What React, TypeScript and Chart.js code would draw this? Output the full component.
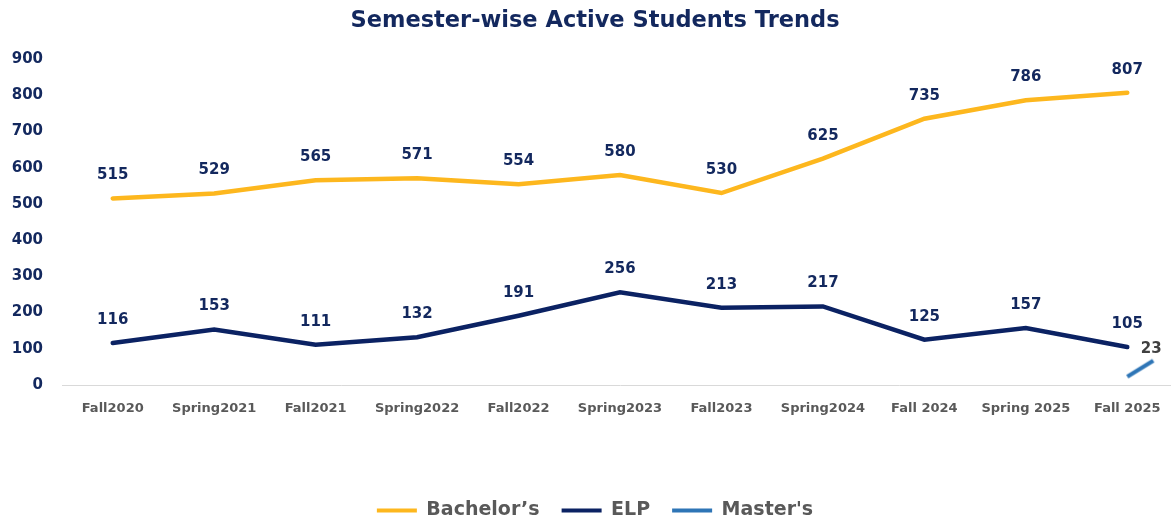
import React, { useEffect, useRef } from "react";
import { Chart, registerables } from "chart.js";

Chart.register(...registerables);

const categories = [
  "Fall2020",
  "Spring2021",
  "Fall2021",
  "Spring2022",
  "Fall2022",
  "Spring2023",
  "Fall2023",
  "Spring2024",
  "Fall 2024",
  "Spring 2025",
  "Fall 2025",
];

const bachelors = [515, 529, 565, 571, 554, 580, 530, 625, 735, 786, 807];
const elp = [116, 153, 111, 132, 191, 256, 213, 217, 125, 157, 105];
const masters = [null, null, null, null, null, null, null, null, null, null, 23];

const yTicks = [0, 100, 200, 300, 400, 500, 600, 700, 800, 900];

const FONT = "'DejaVu Sans', 'Noto Sans', sans-serif";
const NAVY = "#13285e";
const GRAY = "#595959";
const YELLOW = "#FDB71E";
const DARK = "#0B2263";
const BLUE = "#2E75B6";

const labelOffsets = [
  { dx: 0, dy: -23, color: NAVY },
  { dx: 0, dy: -23, color: NAVY },
  { dx: 24, dy: -28, color: "#404040" },
];

function makeStubStyle(color: string) {
  const c = document.createElement("canvas");
  c.width = 64;
  c.height = 44;
  const g = c.getContext("2d");
  if (g) {
    g.strokeStyle = color;
    g.lineWidth = 4;
    g.lineCap = "butt";
    g.beginPath();
    g.moveTo(32, 22);
    g.lineTo(32 + 26, 22 - 16);
    g.stroke();
  }
  return c;
}

const dataLabelPlugin = {
  id: "dataLabels",
  afterDatasetsDraw(chart: any) {
    const ctx = chart.ctx;
    ctx.save();
    ctx.font = `bold 15px ${FONT}`;
    ctx.textAlign = "center";
    ctx.textBaseline = "middle";
    chart.data.datasets.forEach((ds: any, di: number) => {
      const meta = chart.getDatasetMeta(di);
      const off = labelOffsets[di];
      meta.data.forEach((el: any, i: number) => {
        const v = ds.data[i];
        if (v === null || v === undefined) return;
        ctx.fillStyle = off.color;
        ctx.fillText(String(v), el.x + off.dx, el.y + off.dy);
      });
    });
    ctx.restore();
  },
};

const CANVAS_W = 1202;
const CANVAS_H = 530;
const PAD_LEFT = 10;

export default function App() {
  const ref = useRef<HTMLCanvasElement | null>(null);

  useEffect(() => {
    if (!ref.current) return;
    const stub = makeStubStyle(BLUE);
    const chart = new Chart(ref.current, {
      type: "line",
      data: {
        labels: categories,
        datasets: [
          {
            label: "Bachelor\u2019s",
            data: bachelors,
            borderColor: YELLOW,
            backgroundColor: YELLOW,
            borderWidth: 4.5,
            pointRadius: 0,
            tension: 0,
            borderCapStyle: "round",
          },
          {
            label: "ELP",
            data: elp,
            borderColor: DARK,
            backgroundColor: DARK,
            borderWidth: 4.5,
            pointRadius: 0,
            tension: 0,
            borderCapStyle: "round",
          },
          {
            label: "Master's",
            data: masters,
            borderColor: BLUE,
            backgroundColor: BLUE,
            borderWidth: 4,
            pointStyle: stub,
            pointRadius: 10,
            tension: 0,
          },
        ],
      },
      options: {
        responsive: false,
        animation: false,
        layout: { padding: { left: PAD_LEFT, right: 2, top: 0, bottom: 0 } },
        plugins: {
          title: {
            display: true,
            text: "Semester-wise Active Students Trends",
            color: NAVY,
            font: { family: FONT, size: 22.5, weight: "bold" },
            padding: { top: 8, bottom: 24 },
          },
          legend: {
            position: "bottom",
            labels: {
              color: GRAY,
              font: { family: FONT, size: 19, weight: "bold" },
              boxWidth: 40,
              boxHeight: 4,
              padding: 22,
              generateLabels: (c: any) =>
                Chart.defaults.plugins.legend.labels
                  .generateLabels(c)
                  .map((l: any) => ({ ...l, lineWidth: 0, rotation: 0 })),
            },
          },
          tooltip: { enabled: false },
        },
        scales: {
          x: {
            offset: true,
            grid: { display: false, drawTicks: false },
            border: { display: true, color: "#d9d9d9", width: 1 },
            ticks: {
              color: GRAY,
              font: { family: FONT, size: 13, weight: "bold" },
              padding: 16,
              maxRotation: 0,
              autoSkip: false,
            },
            afterFit: (scale: any) => {
              scale.height = 94;
              scale.paddingLeft = 0;
              scale.paddingRight = 0;
            },
          },
          y: {
            min: 0,
            max: 900,
            grid: { display: false, drawTicks: false },
            border: { display: false },
            afterBuildTicks: (scale: any) => {
              scale.ticks = yTicks.map((v) => ({ value: v }));
            },
            ticks: {
              color: NAVY,
              font: { family: FONT, size: 15, weight: "bold" },
              padding: 19,
            },
            afterFit: (scale: any) => {
              scale.width = 62;
            },
          },
        },
      },
      plugins: [dataLabelPlugin],
    } as any);
    return () => chart.destroy();
  }, []);

  return (
    <div
      style={{
        position: "fixed",
        left: 0,
        top: 0,
        width: 1171,
        height: 522,
        overflow: "hidden",
        background: "#fff",
      }}
    >
      <canvas
        ref={ref}
        width={CANVAS_W}
        height={CANVAS_H}
        style={{ position: "absolute", left: -PAD_LEFT, top: 0, width: CANVAS_W, height: CANVAS_H, display: "block" }}
      />
    </div>
  );
}
